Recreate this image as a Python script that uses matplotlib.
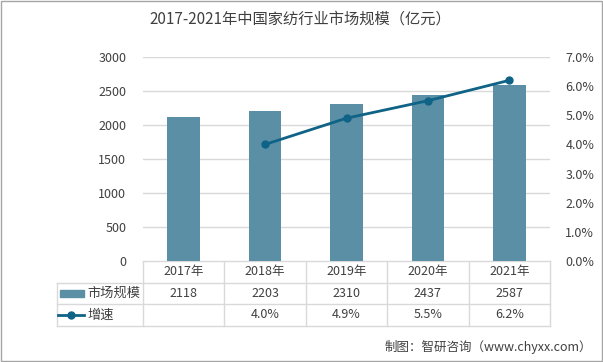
import matplotlib.pyplot as plt
from matplotlib.lines import Line2D
from matplotlib.patches import Rectangle
from matplotlib.transforms import blended_transform_factory
from matplotlib.ticker import FuncFormatter

plt.rcParams['font.family'] = ['Noto Sans CJK SC', 'DejaVu Sans']

years = ['2017年', '2018年', '2019年', '2020年', '2021年']
scale = [2118, 2203, 2310, 2437, 2587]
growth_x = [1, 2, 3, 4]
growth = [4.0, 4.9, 5.5, 6.2]
growth_labels = ['', '4.0%', '4.9%', '5.5%', '6.2%']

bar_color = '#5B8FA6'
line_color = '#0F6386'
grid_color = '#D9D9D9'
text_color = '#404040'

W, H = 603, 362
fig = plt.figure(figsize=(W / 100, H / 100), dpi=100)

# overlay in pixel coords for table / frame / footer
ov = fig.add_axes([0, 0, 1, 1])
ov.set_xlim(0, W)
ov.set_ylim(H, 0)
ov.axis('off')
ov.add_patch(Rectangle((1, 1), W - 2, H - 2, fill=False, edgecolor='#A6A6A6', lw=1))

ax = fig.add_axes([143 / W, 1 - 261 / H, (550 - 143) / W, (261 - 57) / H])
x = list(range(len(years)))
ax.bar(x, scale, width=0.4, color=bar_color, zorder=2)
ax.set_xlim(-0.5, 4.5)
ax.set_ylim(0, 3000)
ax.set_yticks(range(0, 3001, 500))
ax.yaxis.grid(True, color=grid_color, lw=1, zorder=0)
ax.set_xticks([])
for s in ax.spines.values():
    s.set_visible(False)
ax.tick_params(axis='y', length=0, labelsize=9, labelcolor=text_color, pad=12)

ax2 = ax.twinx()
ax2.plot(growth_x, growth, color=line_color, lw=2, marker='o', markersize=5, zorder=3)
ax2.set_ylim(0, 7)
ax2.set_yticks(range(0, 8))
ax2.yaxis.set_major_formatter(FuncFormatter(lambda v, p: f'{v:.1f}%'))
for s in ax2.spines.values():
    s.set_visible(False)
ax2.tick_params(axis='y', length=0, labelsize=9, labelcolor=text_color, pad=11)

# data table below the axes
tr = blended_transform_factory(ax.transData, ov.transData)
rows_y = [261, 283, 304, 326]
left_x = 57
for i, yy in enumerate(rows_y):
    if i == 0:
        ov.add_line(Line2D([-0.5, 4.5], [yy, yy], transform=tr, color=grid_color, lw=1))
    else:
        ov.add_line(Line2D([left_x, 550], [yy, yy], color=grid_color, lw=1))
for k in range(len(years) + 1):
    ov.add_line(Line2D([k - 0.5, k - 0.5], [rows_y[0], rows_y[-1]], transform=tr, color=grid_color, lw=1))
ov.add_line(Line2D([left_x, left_x], [rows_y[1], rows_y[-1]], color=grid_color, lw=1))

for i in range(len(years)):
    ov.text(i, (rows_y[0] + rows_y[1]) / 2, years[i], transform=tr, ha='center', va='center',
            fontsize=9, color=text_color)
    ov.text(i, (rows_y[1] + rows_y[2]) / 2, str(scale[i]), transform=tr, ha='center', va='center',
            fontsize=9, color=text_color)
    ov.text(i, (rows_y[2] + rows_y[3]) / 2, growth_labels[i], transform=tr, ha='center', va='center',
            fontsize=9, color=text_color)

# legend keys in first column
ym = (rows_y[1] + rows_y[2]) / 2
ov.add_patch(Rectangle((60, ym - 3.5), 24, 7, color=bar_color))
ov.text(87, ym, '市场规模', ha='left', va='center', fontsize=9.5, color=text_color)
ym = (rows_y[2] + rows_y[3]) / 2
ov.add_line(Line2D([58, 84], [ym, ym], color=line_color, lw=2))
ov.add_line(Line2D([71], [ym], color=line_color, marker='o', markersize=5))
ov.text(87, ym, '增速', ha='left', va='center', fontsize=9.5, color=text_color)

ov.text(300, 19, '2017-2021年中国家纺行业市场规模（亿元）', ha='center', va='center',
        fontsize=11, color=text_color)
ov.text(592, 347, '制图：智研咨询（www.chyxx.com）', ha='right', va='center',
        fontsize=9, color=text_color)

fig.savefig('out.png', dpi=100)
